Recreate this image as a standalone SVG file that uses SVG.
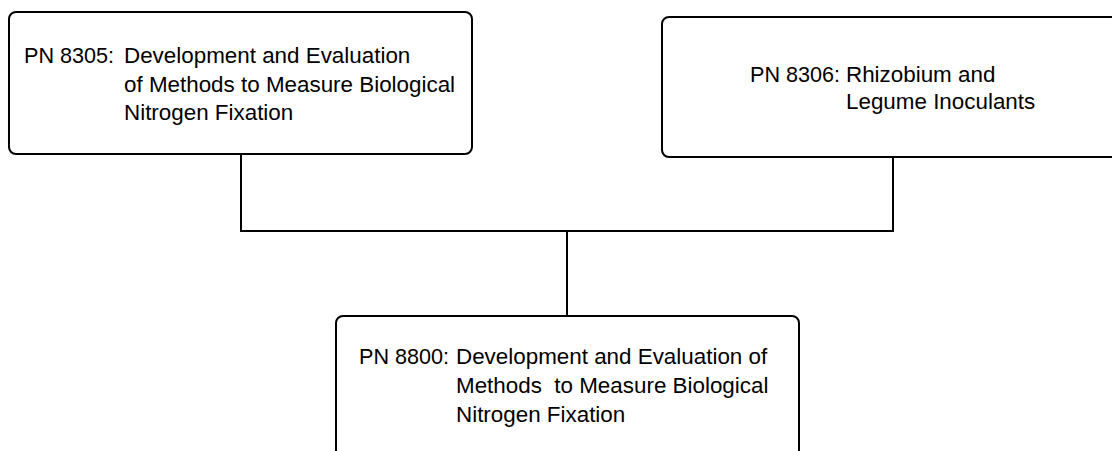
<svg xmlns="http://www.w3.org/2000/svg" width="1112" height="451" viewBox="0 0 1112 451">
<style>
.box{fill:#fff;stroke:#000;stroke-width:2}
.t{font-family:"Liberation Sans",Arial,sans-serif;font-size:22.4px;fill:#000}
.pn{font-size:21.6px}
.c{fill:none;stroke:#000;stroke-width:2}
</style>
<rect width="1112" height="451" fill="#fff"/>
<g id="connectors">
<path class="c" d="M241 154 V231 H893 V157"/>
<path class="c" d="M567 231 V316"/>
</g>
<g id="node-8305">
<rect class="box" x="9" y="12" width="463" height="142" rx="7"/>
<text class="t" y="63"><tspan class="pn" x="24">PN 8305:</tspan><tspan x="124">Development and Evaluation</tspan></text>
<text class="t" x="124" y="92">of Methods to Measure Biological</text>
<text class="t" x="124" y="120">Nitrogen Fixation</text>
</g>
<g id="node-8306">
<rect class="box" x="662" y="17" width="470" height="140" rx="7"/>
<text class="t" y="82"><tspan class="pn" x="750">PN 8306:</tspan><tspan x="846">Rhizobium and</tspan></text>
<text class="t" x="846" y="109">Legume Inoculants</text>
</g>
<g id="node-8800">
<rect class="box" x="336" y="316" width="463" height="150" rx="7"/>
<text class="t" y="364"><tspan class="pn" x="359">PN 8800:</tspan><tspan x="456">Development and Evaluation of</tspan></text>
<text class="t" x="456" y="393" xml:space="preserve">Methods  to Measure Biological</text>
<text class="t" x="456" y="422">Nitrogen Fixation</text>
</g>
</svg>
